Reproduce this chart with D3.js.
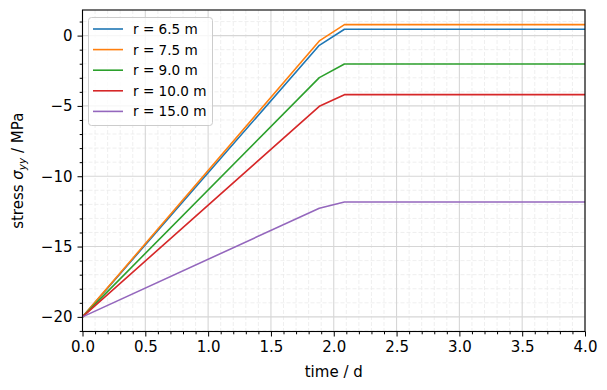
<!DOCTYPE html>
<html><head><meta charset="utf-8">
<script src="https://cdn.jsdelivr.net/npm/d3@7"></script>
<style>body{margin:0;background:#fff}svg{display:block;font-family:"DejaVu Sans",sans-serif}</style>
</head><body><svg id="c" width="607" height="390"></svg>
<script>
const times = [0, 1.885, 2.085, 4.0];
const labels = ["r = 6.5 m", "r = 7.5 m", "r = 9.0 m", "r = 10.0 m", "r = 15.0 m"];
const s65 = [-20, -0.69, 0.45, 0.45];
const s75 = [-20, -0.38, 0.78, 0.78];
const s90 = [-20, -2.99, -2.02, -2.02];
const s100 = [-20, -5.03, -4.20, -4.20];
const s150 = [-20, -12.28, -11.83, -11.83];
const colors = ["#1f77b4", "#ff7f0e", "#2ca02c", "#d62728", "#9467bd"];
const xTicks = [0, 0.5, 1, 1.5, 2, 2.5, 3, 3.5, 4];
const yTicks = [-20, -15, -10, -5, 0];
const series = [s65, s75, s90, s100, s150];

const svg = d3.select("#c");
const L = 82.5, R = 585, T = 10, B = 331.5;
const x = d3.scaleLinear().domain([0, 4]).range([L, R]);
const y = d3.scaleLinear().domain([-21.04, 1.82]).range([B, T]);

const g = svg.append("g");
// minor grid
const xMinor = d3.range(0, 4.0001, 0.1).filter(v => Math.abs(v*2 - Math.round(v*2)) > 1e-6);
const yMinor = d3.range(-21, 2, 1).filter(v => v % 5 !== 0);
g.selectAll(".mgx").data(xMinor).join("line").attr("x1", d => x(d)).attr("x2", d => x(d)).attr("y1", T).attr("y2", B)
  .attr("stroke", "#ebebeb").attr("stroke-width", 0.8).attr("stroke-dasharray", "4,2");
g.selectAll(".mgy").data(yMinor).join("line").attr("y1", d => y(d)).attr("y2", d => y(d)).attr("x1", L).attr("x2", R)
  .attr("stroke", "#ebebeb").attr("stroke-width", 0.8).attr("stroke-dasharray", "4,2");
// major grid
g.selectAll(".gx").data(xTicks).join("line").attr("x1", d => x(d)).attr("x2", d => x(d)).attr("y1", T).attr("y2", B)
  .attr("stroke", "#d6d6d6").attr("stroke-width", 1.1);
g.selectAll(".gy").data(yTicks).join("line").attr("y1", d => y(d)).attr("y2", d => y(d)).attr("x1", L).attr("x2", R)
  .attr("stroke", "#d6d6d6").attr("stroke-width", 1.1);

// lines
const line = d3.line().x((d, i) => x(times[i])).y(d => y(d));
series.forEach((s, i) => {
  svg.append("path").attr("d", line(s)).attr("fill", "none").attr("stroke", colors[i]).attr("stroke-width", 1.6)
    .attr("stroke-linejoin", "round").attr("stroke-linecap", "butt");
});

// frame
svg.append("rect").attr("x", L).attr("y", T).attr("width", R - L).attr("height", B - T)
  .attr("fill", "none").attr("stroke", "#000").attr("stroke-width", 1.1);

// axes
const fmtY = d => d < 0 ? "\u2212" + Math.abs(d) : String(d);
const xa = svg.append("g").attr("transform", `translate(0,${B})`)
  .call(d3.axisBottom(x).tickValues(xTicks).tickFormat(d3.format(".1f")).tickSize(5).tickPadding(5));
const xm = svg.append("g").attr("transform", `translate(0,${B})`)
  .call(d3.axisBottom(x).tickValues(xMinor).tickFormat("").tickSize(2.8));
const ya = svg.append("g").attr("transform", `translate(${L},0)`)
  .call(d3.axisLeft(y).tickValues(yTicks).tickFormat(fmtY).tickSize(5).tickPadding(5));
const ym = svg.append("g").attr("transform", `translate(${L},0)`)
  .call(d3.axisLeft(y).tickValues(yMinor).tickFormat("").tickSize(2.8));
[xa, xm, ya, ym].forEach(a => {
  a.select(".domain").remove();
  a.selectAll("line").attr("stroke", "#000").attr("stroke-width", 1);
  a.selectAll("text").attr("font-family", "DejaVu Sans").attr("font-size", 15).attr("fill", "#000");
});

// axis labels
svg.append("text").attr("x", (L + R) / 2).attr("y", 377).attr("text-anchor", "middle")
  .attr("font-size", 15).text("time / d");
const yl = svg.append("text").attr("transform", `translate(23,${(T + B) / 2}) rotate(-90)`)
  .attr("text-anchor", "middle").attr("font-size", 15);
yl.append("tspan").text("stress ");
yl.append("tspan").attr("font-style", "italic").text("\u03c3");
yl.append("tspan").attr("font-style", "italic").attr("font-size", 10.5).attr("dy", 3).text("yy");
yl.append("tspan").attr("dy", -3).text(" / MPa");

// legend
const lg = svg.append("g");
lg.append("rect").attr("x", 88.5).attr("y", 17.5).attr("width", 124).attr("height", 108).attr("rx", 3)
  .attr("fill", "#fff").attr("fill-opacity", 0.8).attr("stroke", "#cccccc").attr("stroke-width", 1);
labels.forEach((lab, i) => {
  const cy = 29 + i * 20.6;
  lg.append("line").attr("x1", 93).attr("x2", 123).attr("y1", cy).attr("y2", cy)
    .attr("stroke", colors[i]).attr("stroke-width", 1.6);
  lg.append("text").attr("x", 133).attr("y", cy + 5).attr("font-size", 13.6).text(lab);
});
</script></body></html>
